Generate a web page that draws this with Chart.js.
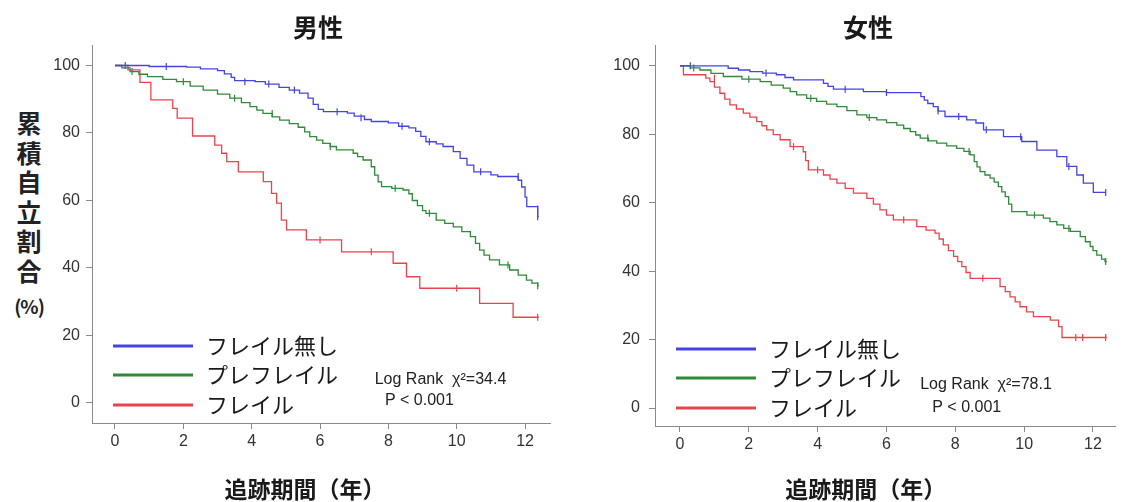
<!DOCTYPE html>
<html>
<head>
<meta charset="utf-8">
<script src="https://cdn.jsdelivr.net/npm/chart.js@4.4.1/dist/chart.umd.min.js"></script>
<style>
  body { margin: 0; background: #fff; width: 1143px; height: 502px; position: relative; overflow: hidden; }
  .panel { position: absolute; top: 0; height: 502px; }
  #ytitle { position: absolute; left: 13px; top: 108px; width: 32px; text-align: center; color: #222;
            font-family: 'Noto Sans CJK JP', sans-serif; font-weight: bold; font-size: 25px; line-height: 29.5px; }
  #ytitle .pct { font-size: 19px; font-weight: bold; margin-top: 10px; line-height: 22px; letter-spacing: -1px; }
</style>
</head>
<body>
<div id="ytitle">累<br>積<br>自<br>立<br>割<br>合<div class="pct">(%)</div></div>
<div class="panel" style="left:0;width:570px"><canvas id="male"></canvas></div>
<div class="panel" style="left:570px;width:573px"><canvas id="female"></canvas></div>
<script>
const JP = "'Noto Sans CJK JP', sans-serif";
const NUM = "'Liberation Sans', Arial, sans-serif";
const AXIS = '#8a8a8a';

const groupNames = ['フレイル無し', 'プレフレイル', 'フレイル'];
const groupColors = ['#4444e4', '#2e8b3a', '#e8444e'];
const xTicks = [0, 2, 4, 6, 8, 10, 12];
const yTicks = [0, 20, 40, 60, 80, 100];
const xTitle = '追跡期間（年）';

// 男性 — [year, %]
const maleNone = [[0,100],[1.0,99.7],[2.1,99.5],[2.5,99],[3.0,98.5],[3.2,97.5],[3.4,96.5],[3.5,95.5],[4.1,95.2],
  [4.4,94.5],[4.8,93.5],[5.1,92.7],[5.4,91.8],[5.65,90.3],[5.8,88.5],[5.95,87],[6.1,86.3],[6.8,85.9],[7.0,85],
  [7.3,84],[7.5,83.4],[8.0,83],[8.3,82],[8.6,81.5],[8.8,80.5],[8.95,79],[9.1,77.4],[9.4,76.8],[9.6,76],[9.9,74.5],
  [10.1,72.5],[10.3,70.5],[10.5,68.5],[11.0,67.6],[11.2,67.1],[11.8,66],[11.9,64],[12.0,61],[12.05,58.2],
  [12.37,55.2],[12.4,55.2]];
const malePre = [[0,100],[0.2,99.3],[0.44,98.2],[0.7,97.4],[0.95,96.7],[1.4,95.9],[1.8,95.2],[2.2,93.9],[2.58,92.7],
  [3.0,91.5],[3.36,90.3],[3.7,89],[3.95,87.8],[4.15,86.8],[4.33,85.8],[4.6,84.8],[4.82,83.8],[5.1,82.8],[5.36,81.7],
  [5.55,80.3],[5.7,78.9],[5.9,77.9],[6.08,76.9],[6.3,76],[6.48,75],[6.97,74],[7.1,73],[7.26,72],[7.5,70],[7.6,67.5],
  [7.7,65.5],[7.8,64.1],[8.1,63.6],[8.43,63.1],[8.6,62],[8.7,60],[8.85,58.5],[9.0,57],[9.1,56.2],[9.4,54.2],
  [9.65,53.2],[9.9,52.2],[10.15,50.8],[10.4,49.3],[10.55,47.3],[10.67,45.3],[10.8,43.8],[10.96,42.4],[11.25,40.9],
  [11.55,39.4],[11.8,37.9],[12.04,36.4],[12.2,35.5],[12.37,34.7],[12.4,34.7]];
const maleFrail = [[0,100],[0.38,98.7],[0.73,95],[1.05,89.8],[1.69,87.3],[1.82,84.4],[2.27,79.1],[2.92,76.4],
  [3.12,74],[3.27,71.5],[3.61,68.5],[4.34,65.6],[4.58,62.1],[4.73,59.2],[4.87,54.2],[5.02,51.3],[5.6,48.3],
  [6.63,44.8],[8.14,41.4],[8.53,37.4],[8.92,34],[10.67,29.5],[11.65,25.4],[12.4,25.4]];
const maleNoneCens = [[0.3,100],[1.5,99.7],[3.8,95.2],[4.5,94.5],[5.25,92.7],[6.5,86.3],[7.2,84.5],[8.4,82],
  [9.2,77.4],[10.7,68.5],[11.8,67.1],[12.37,57.5],[12.37,55.2]];
const malePreCens = [[0.5,98.2],[2.0,95.2],[3.5,90.3],[4.6,85.8],[6.3,76],[8.2,63.6],[9.2,56.2],[11.5,40.9],[12.37,34.7]];
const maleFrailCens = [[6.0,48.3],[7.5,44.8],[10.0,34],[12.37,25.4]];

// 女性 — [year, %]
const femaleNone = [[0,100],[1.4,99.3],[1.7,98.8],[2.03,98.3],[2.4,97.9],[2.8,97.4],[3.05,96.6],[3.3,95.9],
  [4.17,94.9],[4.3,94],[4.46,93.2],[5.33,92.5],[6.0,92.2],[7.0,91],[7.1,90],[7.2,89],[7.36,88.1],[7.5,86.8],
  [7.7,85.2],[8.33,84.2],[8.6,83.3],[8.82,81.3],[9.4,79.3],[9.93,77.9],[10.37,75.4],[10.95,73.5],[11.24,70.6],
  [11.53,68.1],[11.72,65.7],[12.01,63],[12.37,63]];
const femalePre = [[0,100],[0.3,99.4],[0.58,98.8],[0.9,97.8],[1.26,96.9],[1.8,96.1],[2.33,95.4],[2.65,94.4],
  [3.0,93.5],[3.2,92.5],[3.39,91.5],[3.68,90.5],[3.97,89.6],[4.26,88.8],[4.56,88.1],[4.85,86.9],[5.14,85.7],
  [5.43,84.9],[5.72,84.2],[6.0,83.4],[6.3,82.7],[6.5,81.7],[6.69,80.8],[6.85,79.8],[6.98,78.9],[7.22,78.1],
  [7.46,77.4],[7.75,76.6],[8.04,75.9],[8.25,75],[8.43,74],[8.55,72],[8.63,70.5],[8.72,69.1],[8.86,68.1],[9.01,67.2],
  [9.13,66],[9.25,64.7],[9.35,63.2],[9.45,61.8],[9.55,59.6],[9.64,57.4],[10.08,56.4],[10.56,55.5],[10.75,54.5],
  [10.95,53.5],[11.15,52.5],[11.34,51.6],[11.63,50.1],[11.78,48.6],[11.92,47.2],[12.0,46],[12.11,44.7],
  [12.25,43.5],[12.35,42.8],[12.4,42.8]];
const femaleFrail = [[0,100],[0.1,97.4],[0.75,96.4],[0.87,95.4],[1.0,93.8],[1.16,92],[1.3,90.3],[1.45,88.6],
  [1.64,87.4],[1.84,86.2],[2.03,85],[2.23,83.7],[2.38,82.5],[2.52,81.3],[2.71,79.9],[2.91,78.4],[3.2,76.4],
  [3.58,74.9],[3.65,72.3],[3.73,69.6],[4.17,68.1],[4.36,66.9],[4.56,65.7],[4.8,64.2],[5.04,62.8],[5.43,61.3],
  [5.62,59.6],[5.81,57.9],[6.0,56.4],[6.2,55],[6.88,53],[7.15,52],[7.41,51.1],[7.53,49.4],[7.65,47.7],[7.8,46],
  [7.95,44.3],[8.07,42.8],[8.19,41.3],[8.31,39.6],[8.43,37.9],[9.3,35.5],[9.45,34],[9.59,32.5],[9.74,31],
  [9.88,29.6],[10.07,28.1],[10.27,26.7],[10.76,25.7],[11.0,23.8],[11.1,20.6],[12.4,20.6]];
const femaleNoneCens = [[0.3,100],[2.5,97.9],[4.8,93.2],[6.0,92.2],[7.5,86.8],[8.1,85.2],[8.9,81.3],[9.9,79.3],
  [11.3,70.6],[12.37,63]];
const femalePreCens = [[0.4,99.4],[2.0,96.1],[3.8,90.5],[5.5,84.9],[7.2,78.9],[8.4,75],[10.3,56.4],[11.3,52.5],[12.37,42.8]];
const femaleFrailCens = [[1.0,96.4],[3.3,76.4],[4.0,69.6],[6.5,55],[8.8,37.9],[11.5,20.6],[11.7,20.6],[12.37,20.6]];

const maleStats = ['Log Rank  χ²=34.4', 'P < 0.001'];
const femaleStats = ['Log Rank  χ²=78.1', 'P < 0.001'];

const xy = (pairs) => pairs.map(([x, y]) => ({ x, y }));

const insideLegend = {
  id: 'insideLegend',
  afterDraw(chart) {
    const { ctx, chartArea } = chart;
    const rows = [77, 48, 18];
    const curves = chart.data.datasets.filter((d) => !d.censor);
    ctx.save();
    ctx.font = `22px ${JP}`;
    ctx.textBaseline = 'middle';
    curves.forEach((ds, i) => {
      const y = chartArea.bottom - rows[i];
      const x0 = chartArea.left + 21;
      ctx.strokeStyle = ds.borderColor;
      ctx.lineWidth = 3;
      ctx.beginPath();
      ctx.moveTo(x0, y);
      ctx.lineTo(x0 + 80, y);
      ctx.stroke();
      ctx.fillStyle = '#1a1a1a';
      ctx.fillText(ds.label, x0 + 93, y);
    });
    ctx.restore();
  },
};

// panel title, x-axis title and the log-rank note, placed with the chart's own x scale
const panelText = {
  id: 'panelText',
  afterDraw(chart, args, opts) {
    const { ctx, scales } = chart;
    const px = (t) => scales.x.getPixelForValue(t);
    ctx.save();
    ctx.fillStyle = '#1a1a1a';
    ctx.textAlign = 'center';
    ctx.textBaseline = 'middle';
    ctx.font = `bold 25px ${JP}`;
    ctx.fillText(opts.title, px(opts.titleAt), 27);
    ctx.font = `bold 23px ${JP}`;
    ctx.fillText(xTitle, px(opts.xTitleAt), 489);
    ctx.textAlign = 'left';
    ctx.textBaseline = 'alphabetic';
    ctx.font = `16px ${NUM}`;
    ctx.fillStyle = '#222';
    opts.stats.forEach((txt, i) => {
      const [t, v] = opts.statAt[i];
      ctx.fillText(txt, px(t), scales.y.getPixelForValue(v));
    });
    ctx.restore();
  },
};

function curve(label, pairs, color) {
  return { label, data: xy(pairs), borderColor: color, backgroundColor: color, borderWidth: 1.3,
           stepped: 'before', pointRadius: 0, fill: false };
}

function censor(pairs, color) {
  return { censor: true, data: xy(pairs), showLine: false, borderColor: color, backgroundColor: color,
           pointStyle: 'line', rotation: 90, pointRadius: 3.5, borderWidth: 1.2 };
}

function makeChart(id, cfg) {
  const axisScale = {
    type: 'linear',
    grid: { display: true, drawOnChartArea: false, drawTicks: true, tickLength: 6, color: AXIS },
    border: { display: true, color: AXIS, width: 1 },
  };
  return new Chart(document.getElementById(id), {
    type: 'line',
    data: {
      datasets: [
        curve(groupNames[0], cfg.series[0], groupColors[0]),
        curve(groupNames[1], cfg.series[1], groupColors[1]),
        curve(groupNames[2], cfg.series[2], groupColors[2]),
        censor(cfg.cens[0], groupColors[0]),
        censor(cfg.cens[1], groupColors[1]),
        censor(cfg.cens[2], groupColors[2]),
      ],
    },
    options: {
      responsive: true,
      maintainAspectRatio: false,
      animation: false,
      events: [],
      layout: { padding: { left: 0, right: cfg.padRight, top: 45, bottom: 0 } },
      plugins: {
        legend: { display: false },
        tooltip: { enabled: false },
        title: { display: false },
        panelText: { title: cfg.title, titleAt: cfg.titleAt, xTitleAt: cfg.xTitleAt, stats: cfg.stats, statAt: cfg.statAt },
      },
      scales: {
        x: {
          ...axisScale,
          min: cfg.xRange[0],
          max: cfg.xRange[1],
          afterBuildTicks: (ax) => { ax.ticks = xTicks.map((v) => ({ value: v })); },
          afterFit: (s) => { s.height = cfg.xHeight; },
          ticks: { color: '#333', padding: 3, font: { family: NUM, size: 16 } },
        },
        y: {
          ...axisScale,
          min: cfg.yRange[0],
          max: cfg.yRange[1],
          afterBuildTicks: (ax) => { ax.ticks = yTicks.map((v) => ({ value: v })); },
          afterFit: (s) => { s.width = cfg.yWidth; },
          ticks: { color: '#333', padding: cfg.yPad, font: { family: NUM, size: 16 } },
        },
      },
    },
    plugins: [insideLegend, panelText],
  });
}

makeChart('male', {
  title: '男性',
  titleAt: 5.94,
  xTitleAt: 5.56,
  series: [maleNone, malePre, maleFrail],
  cens: [maleNoneCens, malePreCens, maleFrailCens],
  stats: maleStats,
  statAt: [[7.6, 5.6], [7.9, -0.6]],
  xRange: [-0.673, 12.73],
  yRange: [-5.93, 106.07],
  padRight: 20,
  xHeight: 79,
  yWidth: 92,
  yPad: 6,
});

makeChart('female', {
  title: '女性',
  titleAt: 5.46,
  xTitleAt: 5.4,
  series: [femaleNone, femalePre, femaleFrail],
  cens: [femaleNoneCens, femalePreCens, femaleFrailCens],
  stats: femaleStats,
  statAt: [[6.98, 5.6], [7.33, -1.2]],
  xRange: [-0.726, 12.64],
  yRange: [-5.26, 106.1],
  padRight: 28,
  xHeight: 76,
  yWidth: 85,
  yPad: 9,
});
</script>
</body>
</html>
